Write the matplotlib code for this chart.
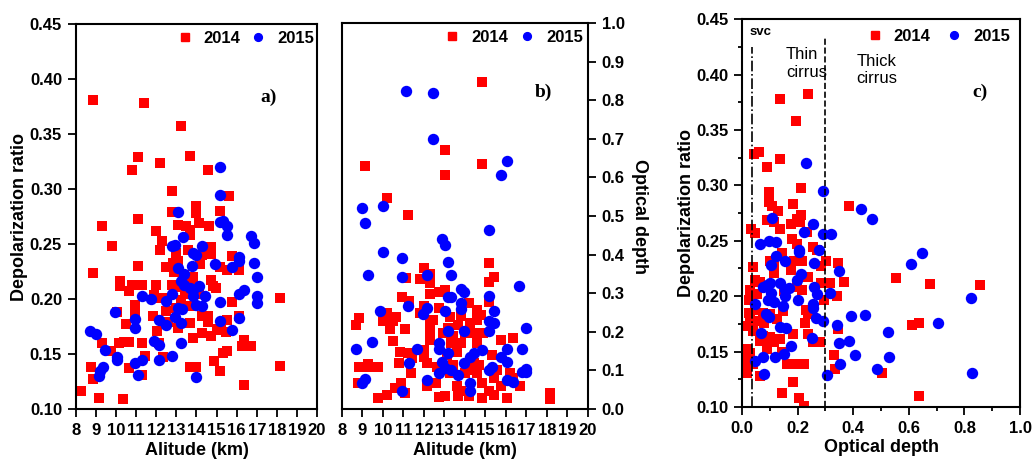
import matplotlib
matplotlib.use("Agg")
import matplotlib.pyplot as plt
from matplotlib.lines import Line2D
from matplotlib.ticker import MultipleLocator, FormatStrFormatter

plt.rcParams['font.family'] = ['Liberation Sans', 'DejaVu Sans']
plt.rcParams['font.weight'] = 'bold'

# ---------------- Panel a: altitude vs depolarization ----------------
alt_a_2014 = [8.85, 11.4, 13.22, 11.1, 10.8, 12.16, 13.67, 14.58, 12.78, 15.63, 14.0, 12.78, 15.16, 14.0,
              9.29, 11.1, 13.1, 13.5, 13.67, 14.1, 14.6, 9.77, 11.98, 12.3, 12.2, 13.67, 14.7, 13.6, 13.0,
              14.7, 14.25, 15.76, 8.86, 11.1, 12.48, 12.85, 13.1, 14.17, 15.16, 15.5, 16.1, 10.2, 10.2,
              10.8, 10.65, 11.27, 12.0, 12.78, 13.2, 13.5, 13.84, 13.42, 14.1, 14.7, 14.83, 14.95, 11.9,
              12.15, 12.35, 10.92, 13.67, 15.76, 18.18, 10.06, 10.92, 11.85, 12.48, 14.25, 14.58, 15.5,
              16.1, 10.5, 12.05, 12.6, 13.1, 13.67, 14.58, 15.0, 15.2, 15.46, 14.25, 13.84, 14.7, 9.29,
              9.76, 10.16, 10.4, 10.65, 11.27, 12.15, 8.73, 8.86, 8.25, 9.14, 10.35, 10.65, 11.27, 11.42,
              12.35, 13.67, 14.0, 14.88, 15.16, 15.33, 15.5, 16.26, 16.38, 16.7, 16.38, 18.18, 13.22,
              13.0, 13.8, 12.9, 13.4]
dep_a_2014 = [0.381, 0.378, 0.357, 0.329, 0.317, 0.324, 0.330, 0.317, 0.298, 0.294, 0.285, 0.279, 0.280,
              0.278, 0.266, 0.273, 0.267, 0.266, 0.263, 0.269, 0.266, 0.248, 0.262, 0.253, 0.245, 0.258,
              0.247, 0.245, 0.242, 0.241, 0.240, 0.239, 0.224, 0.230, 0.229, 0.233, 0.235, 0.232, 0.229,
              0.226, 0.226, 0.216, 0.212, 0.213, 0.207, 0.213, 0.213, 0.213, 0.211, 0.216, 0.220, 0.205,
              0.205, 0.217, 0.212, 0.210, 0.204, 0.201, 0.201, 0.195, 0.194, 0.197, 0.201, 0.188, 0.187,
              0.185, 0.189, 0.185, 0.185, 0.181, 0.185, 0.177, 0.171, 0.179, 0.174, 0.178, 0.179, 0.173,
              0.172, 0.170, 0.169, 0.165, 0.166, 0.160, 0.153, 0.160, 0.161, 0.161, 0.160, 0.160, 0.138,
              0.127, 0.116, 0.110, 0.109, 0.137, 0.131, 0.148, 0.147, 0.138, 0.138, 0.144, 0.135, 0.151,
              0.153, 0.157, 0.163, 0.157, 0.122, 0.139, 0.199, 0.192, 0.214, 0.225, 0.222]
alt_a_2015 = [15.16, 15.16, 13.1, 15.16, 15.33, 15.5, 15.5, 16.7, 16.85, 13.34, 12.78, 12.95, 14.27, 13.84,
              14.0, 16.1, 16.1, 14.9, 16.85, 15.76, 13.8, 13.1, 13.37, 16.99, 13.22, 13.4, 13.67, 14.1,
              13.84, 13.84, 14.4, 12.78, 11.28, 11.72, 12.48, 15.16, 16.1, 16.38, 16.99, 16.99, 14.0,
              14.25, 13.1, 13.26, 9.92, 10.95, 10.95, 12.15, 12.48, 12.95, 13.22, 15.16, 16.1, 15.76,
              8.7, 8.99, 11.9, 12.15, 13.22, 9.46, 10.06, 10.06, 10.95, 11.28, 12.15, 12.78, 9.33, 9.2,
              9.16, 11.1, 14.0]
dep_a_2015 = [0.320, 0.295, 0.279, 0.270, 0.271, 0.266, 0.258, 0.257, 0.251, 0.256, 0.248, 0.249, 0.248,
              0.242, 0.240, 0.238, 0.235, 0.232, 0.233, 0.229, 0.230, 0.228, 0.223, 0.220, 0.216, 0.213,
              0.210, 0.212, 0.208, 0.203, 0.203, 0.205, 0.203, 0.200, 0.198, 0.197, 0.205, 0.208, 0.203,
              0.196, 0.195, 0.194, 0.192, 0.191, 0.188, 0.182, 0.174, 0.181, 0.176, 0.184, 0.178, 0.180,
              0.183, 0.172, 0.171, 0.168, 0.162, 0.158, 0.160, 0.154, 0.147, 0.145, 0.142, 0.145, 0.145,
              0.148, 0.138, 0.135, 0.130, 0.131, 0.129]

# ---------------- Panel b: altitude vs optical depth ----------------
alt_b_2014 = [14.84, 13.03, 13.03, 14.84, 9.12, 10.18, 11.24, 15.15, 11.1, 11.8, 12.0, 12.27, 12.27, 15.15,
              15.44, 10.93, 11.26, 12.27, 12.72, 13.03, 14.22, 14.58, 15.15, 8.68, 8.85, 10.18, 10.02,
              10.35, 10.48, 10.64, 10.48, 11.08, 11.8, 12.0, 12.27, 12.27, 12.27, 12.46, 12.72, 12.95,
              13.15, 13.28, 13.44, 13.64, 13.8, 13.8, 14.0, 14.25, 14.42, 14.58, 14.77, 14.9, 14.58, 13.3,
              13.6, 10.83, 11.24, 11.4, 12.0, 12.0, 12.17, 8.81, 9.29, 9.29, 9.74, 10.79, 11.37, 10.87,
              8.8, 10.6, 10.75, 11.08, 10.18, 9.74, 12.14, 12.6, 12.72, 13.03, 13.28, 13.6, 13.64, 13.8,
              14.0, 14.22, 14.25, 14.42, 14.58, 14.7, 14.84, 14.84, 15.15, 15.3, 15.44, 15.56, 15.44,
              15.75, 15.75, 16.05, 16.2, 16.34, 16.34, 16.66, 18.13, 18.13, 12.95, 13.11, 13.44, 12.62]
od_b_2014 = [0.848, 0.672, 0.607, 0.634, 0.631, 0.548, 0.502, 0.379, 0.339, 0.336, 0.366, 0.350, 0.326,
             0.328, 0.341, 0.289, 0.281, 0.297, 0.303, 0.309, 0.274, 0.257, 0.278, 0.218, 0.235, 0.250,
             0.227, 0.207, 0.227, 0.238, 0.177, 0.207, 0.248, 0.266, 0.222, 0.197, 0.179, 0.231, 0.261,
             0.197, 0.209, 0.238, 0.188, 0.218, 0.171, 0.241, 0.197, 0.222, 0.197, 0.231, 0.244, 0.197,
             0.171, 0.171, 0.149, 0.149, 0.145, 0.132, 0.153, 0.134, 0.119, 0.110, 0.117, 0.109, 0.109,
             0.119, 0.093, 0.067, 0.067, 0.054, 0.054, 0.041, 0.035, 0.028, 0.059, 0.067, 0.031, 0.034,
             0.093, 0.059, 0.034, 0.046, 0.093, 0.033, 0.102, 0.119, 0.093, 0.115, 0.067, 0.028, 0.046,
             0.140, 0.080, 0.102, 0.037, 0.179, 0.059, 0.028, 0.093, 0.184, 0.080, 0.059, 0.041, 0.026,
             0.110, 0.141, 0.115, 0.110]
alt_b_2015 = [11.1, 12.46, 12.46, 16.05, 15.75, 8.98, 10.02, 9.12, 15.15, 12.89, 13.03, 10.02, 10.93, 13.18,
              9.29, 10.93, 12.14, 13.34, 16.63, 13.81, 13.96, 13.18, 13.34, 15.15, 11.24, 9.86, 11.97,
              12.14, 13.03, 13.81, 13.81, 15.44, 15.15, 15.44, 16.96, 13.18, 13.96, 15.15, 8.68, 9.45,
              11.68, 12.72, 12.72, 13.18, 14.25, 14.42, 14.84, 15.75, 16.05, 16.05, 16.8, 11.26, 12.89,
              13.03, 13.34, 12.72, 13.64, 13.96, 15.3, 15.15, 16.8, 16.96, 16.96, 16.05, 16.34, 8.98, 9.12,
              12.14, 14.25, 14.25, 10.93]
od_b_2015 = [0.823, 0.819, 0.700, 0.644, 0.607, 0.522, 0.527, 0.482, 0.464, 0.441, 0.425, 0.407, 0.391,
             0.382, 0.348, 0.341, 0.348, 0.347, 0.319, 0.312, 0.303, 0.291, 0.290, 0.293, 0.267, 0.253,
             0.247, 0.261, 0.253, 0.274, 0.259, 0.254, 0.229, 0.222, 0.209, 0.201, 0.203, 0.201, 0.156,
             0.173, 0.156, 0.171, 0.156, 0.145, 0.136, 0.145, 0.153, 0.136, 0.156, 0.123, 0.156, 0.119,
             0.121, 0.106, 0.102, 0.093, 0.089, 0.119, 0.110, 0.100, 0.097, 0.103, 0.096, 0.076, 0.069,
             0.067, 0.078, 0.076, 0.067, 0.046, 0.046]

# ---------------- Panel c: optical depth vs depolarization ----------------
od_c_2014 = [0.236, 0.135, 0.194, 0.042, 0.061, 0.135, 0.091, 0.211, 0.383, 0.097, 0.097, 0.107, 0.129,
             0.184, 0.088, 0.113, 0.138, 0.177, 0.199, 0.211, 0.209, 0.033, 0.045, 0.180, 0.199, 0.233,
             0.254, 0.269, 0.101, 0.115, 0.144, 0.187, 0.217, 0.303, 0.346, 0.039, 0.113, 0.177, 0.236,
             0.285, 0.552, 0.677, 0.855, 0.368, 0.315, 0.285, 0.045, 0.064, 0.027, 0.052, 0.150, 0.199,
             0.215, 0.340, 0.294, 0.026, 0.026, 0.045, 0.076, 0.101, 0.146, 0.229, 0.238, 0.027, 0.052,
             0.080, 0.125, 0.226, 0.346, 0.610, 0.638, 0.021, 0.039, 0.076, 0.101, 0.184, 0.236, 0.064,
             0.088, 0.113, 0.138, 0.254, 0.282, 0.017, 0.027, 0.012, 0.027, 0.009, 0.039, 0.088, 0.143,
             0.162, 0.199, 0.221, 0.329, 0.334, 0.017, 0.064, 0.503, 0.184, 0.143, 0.205, 0.221, 0.637]
dep_c_2014 = [0.382, 0.378, 0.358, 0.328, 0.330, 0.324, 0.317, 0.298, 0.281, 0.294, 0.285, 0.281, 0.277,
              0.283, 0.269, 0.267, 0.261, 0.265, 0.270, 0.273, 0.267, 0.261, 0.257, 0.252, 0.247, 0.258,
              0.244, 0.242, 0.232, 0.227, 0.239, 0.232, 0.232, 0.232, 0.230, 0.226, 0.221, 0.224, 0.217,
              0.227, 0.216, 0.211, 0.210, 0.213, 0.212, 0.212, 0.215, 0.213, 0.206, 0.202, 0.205, 0.208,
              0.206, 0.200, 0.197, 0.197, 0.185, 0.188, 0.185, 0.184, 0.187, 0.188, 0.184, 0.179, 0.178,
              0.176, 0.179, 0.176, 0.170, 0.174, 0.176, 0.173, 0.169, 0.164, 0.163, 0.166, 0.166, 0.160,
              0.158, 0.159, 0.161, 0.159, 0.159, 0.152, 0.149, 0.145, 0.142, 0.139, 0.139, 0.152, 0.150,
              0.139, 0.139, 0.139, 0.147, 0.134, 0.131, 0.128, 0.131, 0.123, 0.113, 0.108, 0.101, 0.110]
od_c_2015 = [0.229, 0.292, 0.427, 0.466, 0.107, 0.256, 0.223, 0.292, 0.321, 0.064, 0.097, 0.121, 0.204,
             0.204, 0.275, 0.647, 0.609, 0.121, 0.156, 0.260, 0.104, 0.211, 0.199, 0.350, 0.138, 0.101,
             0.076, 0.088, 0.104, 0.156, 0.168, 0.260, 0.269, 0.315, 0.156, 0.094, 0.115, 0.202, 0.825,
             0.048, 0.146, 0.256, 0.256, 0.086, 0.097, 0.266, 0.292, 0.393, 0.442, 0.704, 0.343, 0.138,
             0.158, 0.067, 0.524, 0.252, 0.349, 0.385, 0.177, 0.152, 0.119, 0.407, 0.530, 0.076, 0.045,
             0.351, 0.487, 0.080, 0.304, 0.828]
dep_c_2015 = [0.320, 0.295, 0.279, 0.270, 0.271, 0.265, 0.258, 0.256, 0.256, 0.247, 0.250, 0.249, 0.242,
              0.240, 0.242, 0.239, 0.229, 0.236, 0.232, 0.230, 0.228, 0.220, 0.215, 0.223, 0.212, 0.212,
              0.208, 0.210, 0.203, 0.206, 0.207, 0.208, 0.202, 0.203, 0.200, 0.197, 0.195, 0.197, 0.198,
              0.193, 0.191, 0.193, 0.189, 0.184, 0.181, 0.180, 0.178, 0.182, 0.183, 0.176, 0.174, 0.172,
              0.171, 0.167, 0.168, 0.162, 0.158, 0.160, 0.155, 0.148, 0.145, 0.147, 0.145, 0.145, 0.142,
              0.139, 0.134, 0.130, 0.129, 0.131]

year_labels = ['2014', '2015']
alt_ticks = list(range(8, 21))
svc_limit = 0.035
thin_limit = 0.3

RED = '#ff0000'
BLUE = '#0000ff'
MS_SQ = 7.3
MS_CI = 8.2
TICK_FS = 12
LABEL_FS = 13

fig = plt.figure(figsize=(10.35, 4.61), dpi=100)

def style_axes(ax):
    for sp in ax.spines.values():
        sp.set_linewidth(1.5)
    ax.tick_params(which='both', direction='out', width=1.3, labelsize=TICK_FS, pad=4.5)
    ax.tick_params(which='major', length=5.5)
    ax.tick_params(which='minor', length=3)

def add_legend(ax, ax_x, ax_y, colsp):
    h = [Line2D([], [], marker='s', color=RED, ls='none', ms=5.2),
         Line2D([], [], marker='o', color=BLUE, ls='none', ms=5.6)]
    ax.legend(h, year_labels, loc='upper right', bbox_to_anchor=(ax_x, ax_y), ncol=2, frameon=False,
              handletextpad=0.65, columnspacing=colsp, handlelength=1.0, borderpad=0, borderaxespad=0,
              prop={'weight': 'bold', 'size': 12})

# Panel a
ax1 = fig.add_axes([0.0734, 0.1128, 0.2329, 0.835])
ax1.plot(alt_a_2014, dep_a_2014, 's', color=RED, ms=MS_SQ, mew=0)
ax1.plot(alt_a_2015, dep_a_2015, 'o', color=BLUE, ms=MS_CI, mew=0)
ax1.set_xlim(8, 20)
ax1.set_ylim(0.10, 0.45)
ax1.set_xticks(alt_ticks)
ax1.yaxis.set_major_locator(MultipleLocator(0.05))
ax1.yaxis.set_major_formatter(FormatStrFormatter('%.2f'))
style_axes(ax1)
ax1.set_xlabel('Alitude (km)', fontsize=LABEL_FS, fontweight='bold', labelpad=3)
ax1.set_ylabel('Depolarization ratio', fontsize=LABEL_FS, fontweight='bold', labelpad=1.5)
ax1.text(0.80, 0.81, 'a)', transform=ax1.transAxes, family='Liberation Serif',
         fontsize=14, fontweight='bold', ha='center', va='center')
add_legend(ax1, 0.988, 0.982, 0.55)

# Panel b
ax2 = fig.add_axes([0.3304, 0.1128, 0.2377, 0.837])
ax2.plot(alt_b_2014, od_b_2014, 's', color=RED, ms=MS_SQ, mew=0)
ax2.plot(alt_b_2015, od_b_2015, 'o', color=BLUE, ms=MS_CI, mew=0)
ax2.set_xlim(8, 20)
ax2.set_ylim(0.0, 1.0)
ax2.set_xticks(alt_ticks)
ax2.yaxis.set_major_locator(MultipleLocator(0.1))
ax2.yaxis.set_major_formatter(FormatStrFormatter('%.1f'))
ax2.yaxis.tick_right()
ax2.yaxis.set_label_position('right')
style_axes(ax2)
ax2.set_xlabel('Alitude (km)', fontsize=LABEL_FS, fontweight='bold', labelpad=3)
ax2.set_ylabel('Optical depth', fontsize=LABEL_FS, fontweight='bold', rotation=270, labelpad=17)
ax2.text(0.82, 0.82, 'b)', transform=ax2.transAxes, family='Liberation Serif',
         fontsize=14, fontweight='bold', ha='center', va='center')
add_legend(ax2, 0.980, 0.982, 0.65)

# Panel c
ax3 = fig.add_axes([0.7170, 0.117, 0.2686, 0.8416])
ax3.plot(od_c_2014, dep_c_2014, 's', color=RED, ms=MS_SQ, mew=0)
ax3.plot(od_c_2015, dep_c_2015, 'o', color=BLUE, ms=MS_CI, mew=0)
ax3.axvline(svc_limit, color='black', ls='-.', lw=1.2, ymax=0.928)
ax3.axvline(thin_limit, color='black', ls='--', lw=1.2, ymax=0.954)
ax3.set_xlim(0, 1.0)
ax3.set_ylim(0.10, 0.45)
ax3.xaxis.set_major_locator(MultipleLocator(0.2))
ax3.xaxis.set_minor_locator(MultipleLocator(0.1))
ax3.yaxis.set_major_locator(MultipleLocator(0.05))
ax3.yaxis.set_minor_locator(MultipleLocator(0.025))
ax3.xaxis.set_major_formatter(FormatStrFormatter('%.1f'))
ax3.yaxis.set_major_formatter(FormatStrFormatter('%.2f'))
style_axes(ax3)
ax3.set_xlabel('Optical depth', fontsize=LABEL_FS, fontweight='bold', labelpad=2)
ax3.set_ylabel('Depolarization ratio', fontsize=LABEL_FS, fontweight='bold', labelpad=0.5)
ax3.text(0.028, 0.438, 'svc', fontsize=9.5, fontweight='bold', ha='left', va='center')
ax3.text(0.158, 0.410, 'Thin\ncirrus', fontsize=12, fontweight='normal', ha='left', va='center',
         linespacing=1.2)
ax3.text(0.412, 0.404, 'Thick\ncirrus', fontsize=12, fontweight='normal', ha='left', va='center',
         linespacing=1.2)
ax3.text(0.855, 0.81, 'c)', transform=ax3.transAxes, family='Liberation Serif',
         fontsize=14, fontweight='bold', ha='center', va='center')
add_legend(ax3, 0.964, 0.975, 0.9)

fig.savefig('out.png', dpi=100)
